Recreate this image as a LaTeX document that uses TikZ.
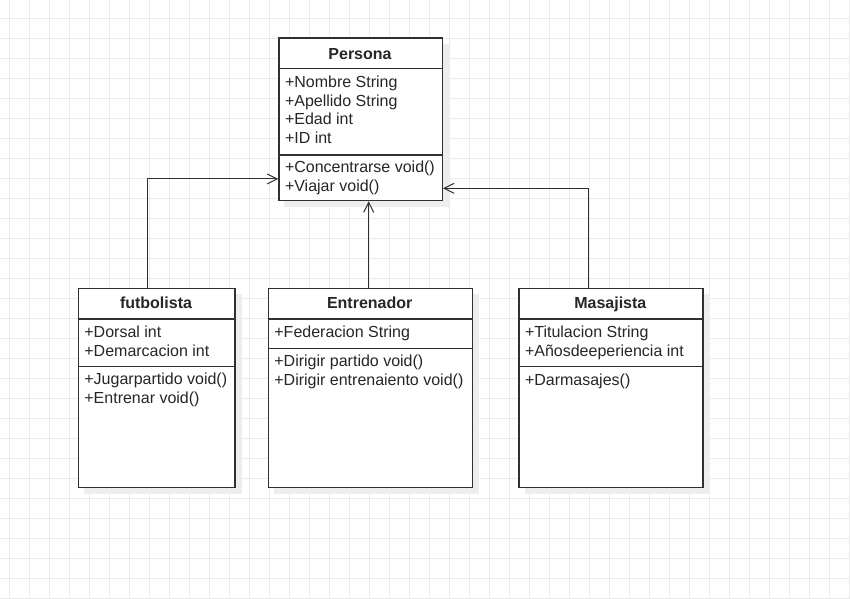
\documentclass[tikz,border=0pt]{standalone}
\usepackage{fontspec}
\setmainfont{Liberation Sans}
\usetikzlibrary{arrows.meta,calc}
\definecolor{gridc}{HTML}{EBEBEB}
\definecolor{linec}{HTML}{303030}
\definecolor{textc}{HTML}{262626}
\definecolor{shadc}{HTML}{EDEDED}
\begin{document}
\begin{tikzpicture}[x=1pt,y=-1pt,
  classbox/.style={draw=linec,line width=1.3pt,fill=white,rectangle,inner sep=0pt,anchor=north west},
  txt/.style={anchor=base west,inner sep=0pt,text=textc,font=\fontsize{16}{19}\selectfont},
  hdr/.style={anchor=base,inner sep=0pt,text=textc,font=\fontsize{16}{19}\selectfont\bfseries},
  sepline/.style={draw=linec,line width=1.3pt},
  shad/.style={fill=shadc},
  inh/.style={draw=linec,line width=1pt,-{Straight Barb[length=10pt,width=10pt,line width=1pt]}}]
\useasboundingbox (0,0) rectangle (850,598);
\fill[white] (0,0) rectangle (850,598);
% grid
\foreach \x in {9,29,...,849} \draw[gridc,line width=0.8pt] (\x,0) -- (\x,598);
\foreach \y in {18,38,...,598} \draw[gridc,line width=0.8pt] (0,\y) -- (850,\y);
% shadows
\fill[shad] (284,44) rectangle (449,207);
\fill[shad] (84,294) rectangle (242,494);
\fill[shad] (274,294) rectangle (479,494);
\fill[shad] (525,294) rectangle (710,494);
% boxes
\node[classbox,minimum width=163.4pt,minimum height=162.7pt] (persona) at (278.3,37.3) {};
\node[classbox,minimum width=156.6pt,minimum height=199pt] (futbolista) at (77.7,287.7) {};
\node[classbox,minimum width=204pt,minimum height=199pt] (entrenador) at (267.7,287.7) {};
\node[classbox,minimum width=184pt,minimum height=199pt] (masajista) at (518.3,287.7) {};
% separators
\draw[sepline] (persona.west |- 0,68.3) -- (persona.east |- 0,68.3);
\draw[sepline] (persona.west |- 0,155) -- (persona.east |- 0,155);
\draw[sepline] (futbolista.west |- 0,319) -- (futbolista.east |- 0,319);
\draw[sepline] (futbolista.west |- 0,366.7) -- (futbolista.east |- 0,366.7);
\draw[sepline] (entrenador.west |- 0,319) -- (entrenador.east |- 0,319);
\draw[sepline] (entrenador.west |- 0,348.3) -- (entrenador.east |- 0,348.3);
\draw[sepline] (masajista.west |- 0,319) -- (masajista.east |- 0,319);
\draw[sepline] (masajista.west |- 0,366.7) -- (masajista.east |- 0,366.7);
% Persona texts
\node[hdr] (ph) at (360,59) {Persona};
\node[txt] (p1) at (284.8,87.3) {+Nombre String};
\node[txt] (p2) at (284.8,106) {+Apellido String};
\node[txt] (p3) at (284.8,124.7) {+Edad int};
\node[txt] (p4) at (284.8,143.3) {+ID int};
\node[txt] (p5) at (284.8,172) {+Concentrarse void()};
\node[txt] (p6) at (284.8,191) {+Viajar void()};
% futbolista texts
\node[hdr] (fh) at (156,308.3) {futbolista};
\node[txt] (f1) at (84.2,337.3) {+Dorsal int};
\node[txt] (f2) at (84.2,356) {+Demarcacion int};
\node[txt] (f3) at (84.2,384.5) {+Jugarpartido void()};
\node[txt] (f4) at (84.2,403.3) {+Entrenar void()};
% Entrenador texts
\node[hdr] (eh) at (369.7,308.3) {Entrenador};
\node[txt] (e1) at (274.2,337.3) {+Federacion String};
\node[txt] (e2) at (274.2,366) {+Dirigir partido void()};
\node[txt] (e3) at (274.2,385) {+Dirigir entrenaiento void()};
% Masajista texts
\node[hdr] (mh) at (610.3,308.3) {Masajista};
\node[txt] (m1) at (524.8,337.3) {+Titulacion String};
\node[txt] (m2) at (524.8,356) {+Añosdeeperiencia int};
\node[txt] (m3) at (524.8,385) {+Darmasajes()};
% connectors
\draw[inh] ([xshift=-8.7pt]futbolista.north) |- ([yshift=-59.65pt]persona.west);
\draw[inh] ([xshift=-1.7pt]entrenador.north) -- ([xshift=-1.7pt]entrenador.north |- persona.south);
\draw[inh] ([xshift=-22.6pt]masajista.north) |- ([yshift=-69pt]persona.east);
\end{tikzpicture}
\end{document}
